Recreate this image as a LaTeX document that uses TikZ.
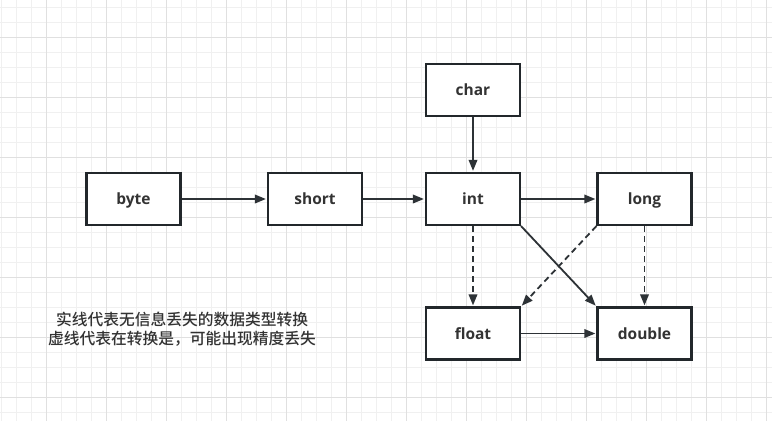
\documentclass[tikz,border=0pt]{standalone}
\usepackage{fontspec}
\setmainfont{Noto Sans CJK SC}
\newfontfamily\cjkm{Noto Sans CJK SC}[UprightFont={* Medium}]
\newfontfamily\lab{Open Sans}
\usetikzlibrary{arrows.meta}
\definecolor{boxc}{HTML}{22272B}
\definecolor{txt}{HTML}{333333}
\definecolor{gminor}{HTML}{F0F0F0}
\definecolor{gmajor}{HTML}{E0E0E0}
\begin{document}
\begin{tikzpicture}[x=1pt,y=-1pt,
  box/.style={draw=boxc, line width=2.2pt, fill=white, minimum width=94pt, minimum height=52pt, inner sep=0pt,
    font=\lab\bfseries\fontsize{15.5}{18}\selectfont, text=txt, text height=11pt, text depth=0pt},
  conn/.style={draw=boxc!95!white, line width=1.8pt, -{Triangle[length=11pt,width=8.5pt]}, shorten >=1pt},
  dconn/.style={conn, dash pattern=on 6pt off 4pt},
  minorl/.style={draw=gminor, line width=1pt},
  majorl/.style={draw=gmajor, line width=1pt}]
\fill[white] (0,0) rectangle (772,421);
\useasboundingbox (0,0) rectangle (772,421);
\foreach \x in {1,16,...,766} \draw[minorl] (\x,0) -- (\x,421);
\foreach \y in {7,22,...,412} \draw[minorl] (0,\y) -- (772,\y);
\foreach \x in {46,106,...,766} \draw[majorl] (\x,0) -- (\x,421);
\foreach \y in {37,97,...,397} \draw[majorl] (0,\y) -- (772,\y);

\node[box] (byte) at (133.5,199) {byte};
\node[box] (short) at (315,199) {short};
\node[box] (int) at (473,199) {int};
\node[box] (char) at (473,90) {char};
\node[box] (long) at (644.5,199) {long};
\node[box] (float) at (473,333.5) {float};
\node[box] (double) at (644.5,333.5) {double};

\draw[conn] (byte) -- (short);
\draw[conn] (short) -- (int);
\draw[conn] (int) -- (long);
\draw[conn] (char) -- (int);
\draw[dconn] (int) -- (float);
\draw[dconn] (long) -- (double);
\draw[conn] (int.south east) -- (double.north west);
\draw[dconn] (long.south west) -- (float.north east);
\draw[conn] (float) -- (double);

\node[align=center, text=txt, font=\cjkm\fontsize{15.75}{19}\selectfont] (note) at (182,329.5)
  {实线代表无信息丢失的数据类型转换\\虚线代表在转换是，可能出现精度丢失};
\end{tikzpicture}
\end{document}
